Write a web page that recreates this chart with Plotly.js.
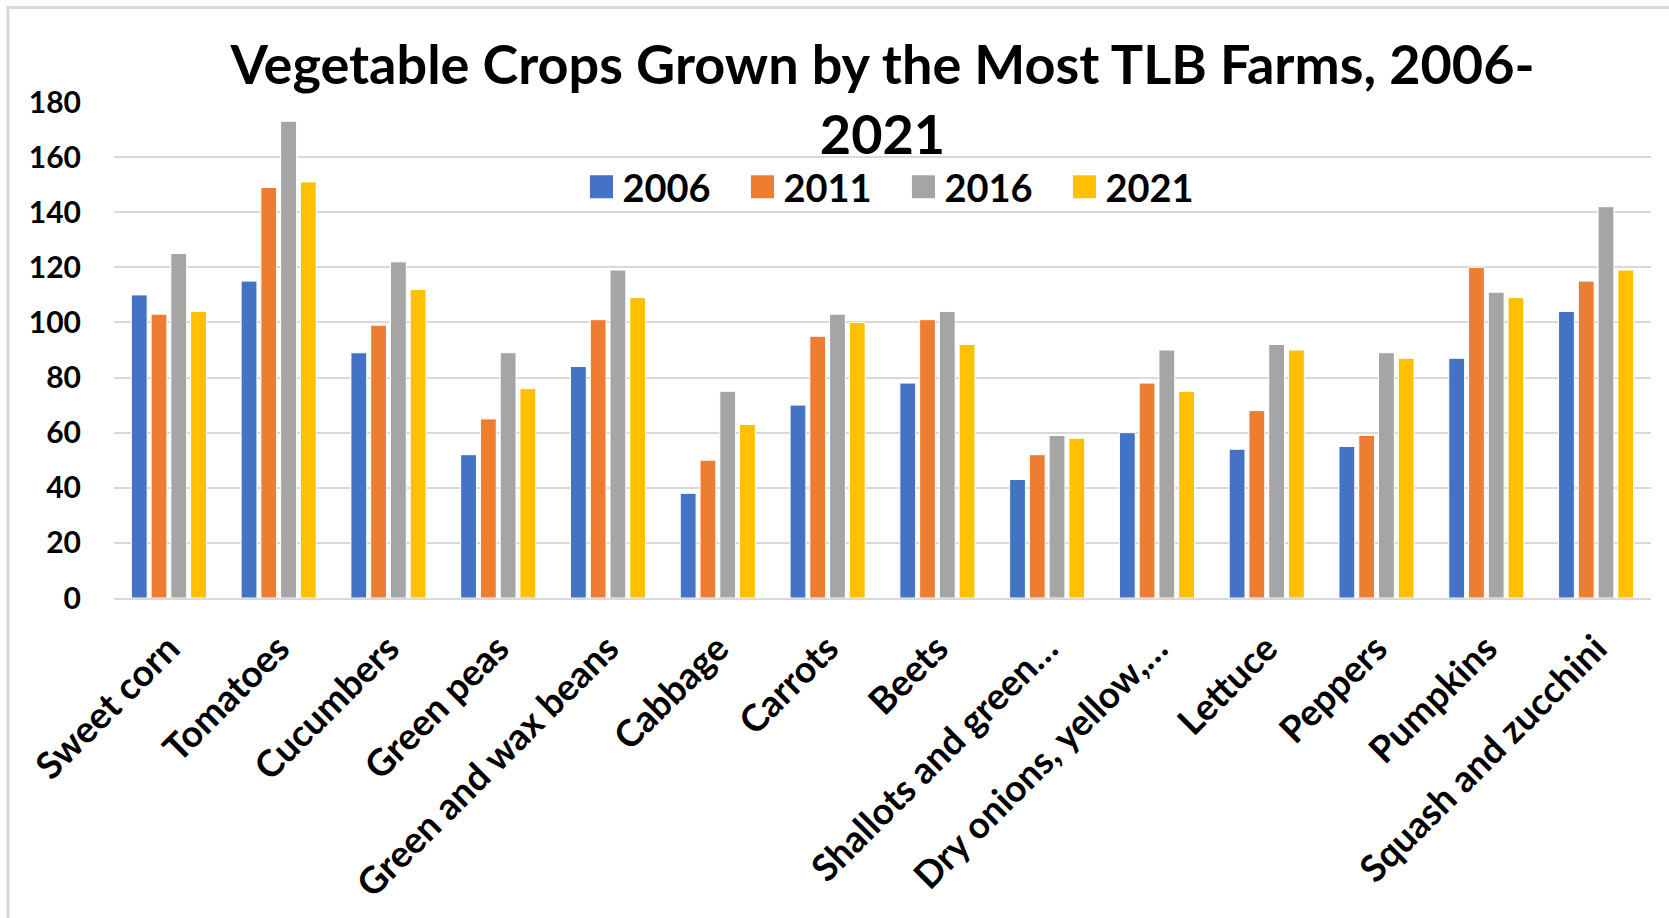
<!DOCTYPE html>
<html>
<head>
<meta charset="utf-8">
<script src="https://cdn.plot.ly/plotly-3.0.1.min.js"></script>
<style>
  html, body { margin: 0; padding: 0; background: #ffffff; }
  #chart { width: 1669px; height: 918px; }
</style>
</head>
<body>
<div id="chart"></div>
<script>
const categories = ["Sweet corn", "Tomatoes", "Cucumbers", "Green peas", "Green and wax beans", "Cabbage", "Carrots", "Beets", "Shallots and green\u2026", "Dry onions, yellow,\u2026", "Lettuce", "Peppers", "Pumpkins", "Squash and zucchini"];
const seriesNames = ["2006", "2011", "2016", "2021"];
const v2006 = [110, 115, 89, 52, 84, 38, 70, 78, 43, 60, 54, 55, 87, 104];
const v2011 = [103, 149, 99, 65, 101, 50, 95, 101, 52, 78, 68, 59, 120, 115];
const v2016 = [125, 173, 122, 89, 119, 75, 103, 104, 59, 90, 92, 89, 111, 142];
const v2021 = [104, 151, 112, 76, 109, 63, 100, 92, 58, 75, 90, 87, 109, 119];
const colors = ["#4472C4", "#ED7D31", "#A5A5A5", "#FFC000"];
const yTicks = [0, 20, 40, 60, 80, 100, 120, 140, 160, 180];

const FONT = "Lato, 'Open Sans', sans-serif";
const values = [v2006, v2011, v2016, v2021];

const traces = values.map((v, i) => ({
  type: "bar",
  name: seriesNames[i],
  x: categories,
  y: v,
  marker: { color: colors[i], line: { color: "#ffffff", width: 1 } },
  hoverinfo: "x+y+name"
}));

const layout = {
  width: 1669,
  height: 918,
  paper_bgcolor: "#ffffff",
  plot_bgcolor: "#ffffff",
  margin: { l: 114, r: 18, t: 102, b: 320 },
  barmode: "group",
  bargap: 0.28,
  bargroupgap: 0.2,
  title: {
    text: "Vegetable Crops Grown by the Most TLB Farms, 2006-<br>2021",
    font: { family: FONT, size: 54, color: "#000000", weight: "bold" },
    x: 0.5,
    xref: "paper",
    xanchor: "center",
    y: 1 - 84 / 918,
    yref: "container",
    yanchor: "top"
  },
  showlegend: true,
  legend: {
    orientation: "h",
    x: 0.513,
    xanchor: "center",
    xref: "paper",
    y: (598 - 187) / 496,
    yanchor: "middle",
    bgcolor: "rgba(0,0,0,0)",
    font: { family: FONT, size: 38, color: "#000000", weight: "bold" },
    traceorder: "normal",
    itemwidth: 32,
    entrywidth: 114,
    entrywidthmode: "pixels"
  },
  xaxis: {
    type: "category",
    tickangle: -45,
    tickfont: { family: FONT, size: 37, color: "#000000", weight: "bold" },
    showgrid: false,
    showline: true,
    linecolor: "#D9D9D9",
    linewidth: 2,
    ticks: "outside",
    ticklen: 12,
    tickcolor: "rgba(0,0,0,0)",
    zeroline: false
  },
  yaxis: {
    range: [0, 180],
    tickvals: yTicks,
    ticktext: yTicks.map(String),
    tickfont: { family: FONT, size: 30, color: "#000000", weight: "bold" },
    showgrid: true,
    gridcolor: "#D9D9D9",
    gridwidth: 2,
    zeroline: false,
    showline: false,
    ticks: "outside",
    ticklen: 26,
    tickcolor: "rgba(0,0,0,0)"
  },
  shapes: [{
    type: "rect",
    xref: "paper",
    yref: "paper",
    x0: (8 - 114) / 1537,
    x1: 1.2,
    y0: -1,
    y1: (598 - 7.5) / 496,
    line: { color: "#D9D9D9", width: 3 },
    fillcolor: "rgba(0,0,0,0)",
    layer: "below"
  }]
};

Plotly.newPlot("chart", traces, layout, { displayModeBar: false, staticPlot: true }).then(gd => {
  const pts = gd.querySelectorAll(".legend .legendpoints path");
  pts.forEach(p => {
    const t = p.getAttribute("transform") || "";
    p.setAttribute("transform", t + " scale(2.1)");
  });
});
</script>
</body>
</html>
